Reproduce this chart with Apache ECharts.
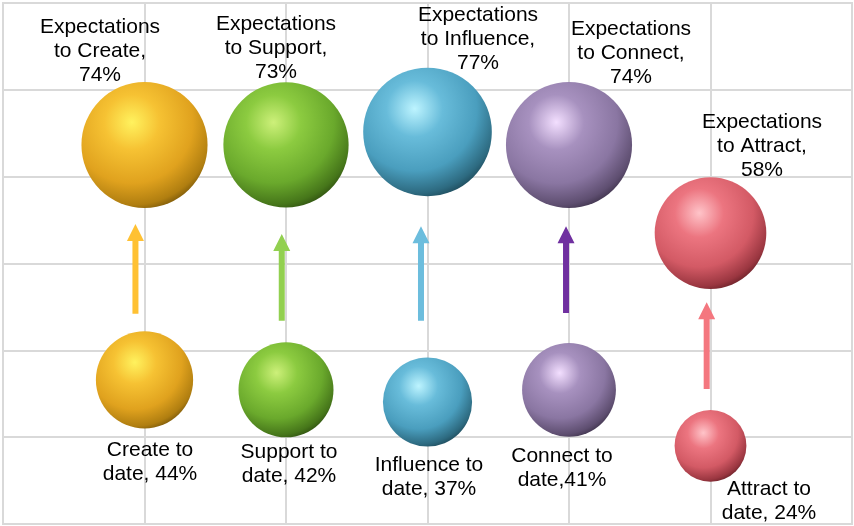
<!DOCTYPE html>
<html><head><meta charset="utf-8">
<script src="https://cdn.jsdelivr.net/npm/echarts@6/dist/echarts.min.js"></script>
<style>html,body{margin:0;padding:0;background:#fff}#c{width:854px;height:526px}</style>
</head><body><div id="c"></div>
<script>
const categories = ['Create', 'Support', 'Influence', 'Connect', 'Attract'];
const xPos = [1, 2, 3, 4, 5];
const expectValues = [74, 73, 77, 74, 58];
const toDateValues = [44, 42, 37, 41, 24];
const expectY = [87.3, 87.3, 90.3, 87.3, 67.0];
const toDateY = [33.2, 30.9, 28.1, 30.9, 18.0];
const expectLabels = ['Expectations\nto Create,\n74%', 'Expectations\nto Support,\n73%', 'Expectations\nto Influence,\n77%', 'Expectations\nto Connect,\n74%', 'Expectations\nto Attract,\n58%'];
const toDateLabels = ['Create to\ndate, 44%', 'Support to\ndate, 42%', 'Influence to\ndate, 37%', 'Connect to\ndate,41%', 'Attract to\ndate, 24%'];
const arrowX = [0.936, 1.970, 2.954, 3.979, 4.973];
const arrowFrom = [48.4, 46.8, 46.8, 48.6, 31.1];
const arrowTo = [69.1, 66.8, 68.6, 68.6, 51.1];

// styles
const spherePalette = [
  ['#FFF25E', '#F6C233', '#E0A21E', '#B07E10', '#4A3604'],
  ['#CDF07A', '#8CCB40', '#6AA92C', '#46761A', '#1C3008'],
  ['#BDF4FF', '#68BCDA', '#4A9EBE', '#2D6A80', '#112E38'],
  ['#F3DFFF', '#A791BF', '#8A76A2', '#5E4E70', '#241C2C'],
  ['#FFC4C9', '#EC7580', '#D35A65', '#9A3640', '#3E0F13']
];
const arrowColors = ['#FFC133', '#92D050', '#6CBDDD', '#7030A0', '#F4777F'];
const expectLabelOffsets = [[-44.5, -94], [-10, -97], [50.5, -93], [62, -92], [51.5, -87]];
const toDateLabelOffsets = [[5.5, 82], [3, 74], [1.5, 75], [-7, 78], [58.5, 55]];

function sphere(i) {
  const p = spherePalette[i];
  return {
    type: 'radial', x: 0.4, y: 0.32, r: 0.78,
    colorStops: [
      { offset: 0, color: p[0] },
      { offset: 0.28, color: p[1] },
      { offset: 0.62, color: p[2] },
      { offset: 0.84, color: p[3] },
      { offset: 1, color: p[4] }
    ]
  };
}

function bubbleData(values, ys, labels, offsets) {
  return values.map((v, i) => ({
    value: [xPos[i], ys[i], v],
    itemStyle: { color: sphere(i), opacity: 1 },
    label: { formatter: labels[i], offset: offsets[i] }
  }));
}

const labelStyle = {
  show: true, position: 'inside', align: 'center', verticalAlign: 'middle',
  fontFamily: 'Liberation Sans, Arial, sans-serif', fontSize: 21, lineHeight: 24, color: '#000'
};

const chart = echarts.init(document.getElementById('c'));
chart.setOption({
  animation: false,
  grid: { left: 3, right: 2, top: 3, bottom: 2, show: true, borderColor: '#D9D9D9', borderWidth: 2 },
  xAxis: {
    type: 'value', min: 0, max: 6, interval: 1,
    axisLine: { show: false }, axisTick: { show: false }, axisLabel: { show: false },
    splitLine: { show: true, lineStyle: { color: '#D9D9D9', width: 2 } }
  },
  yAxis: {
    type: 'value', min: 0, max: 120, interval: 20,
    axisLine: { show: false }, axisTick: { show: false }, axisLabel: { show: false },
    splitLine: { show: true, lineStyle: { color: '#D9D9D9', width: 2 } }
  },
  series: [
    {
      type: 'custom',
      data: arrowX.map((x, i) => [x, arrowFrom[i], arrowTo[i], i]),
      renderItem: function (params, api) {
        const p0 = api.coord([api.value(0), api.value(1)]);
        const p1 = api.coord([api.value(0), api.value(2)]);
        const x = p0[0], sw = 3, hw = 8.5, hh = 17;
        return {
          type: 'polygon',
          shape: { points: [
            [x - sw, p0[1]], [x - sw, p1[1] + hh], [x - hw, p1[1] + hh], [x, p1[1]],
            [x + hw, p1[1] + hh], [x + sw, p1[1] + hh], [x + sw, p0[1]]
          ] },
          style: { fill: arrowColors[api.value(3)] }
        };
      },
      z: 1
    },
    {
      type: 'scatter',
      symbolSize: v => Math.sqrt(v[2]) * 14.66,
      itemStyle: { opacity: 1 },
      data: bubbleData(expectValues, expectY, expectLabels, expectLabelOffsets),
      label: labelStyle,
      z: 2
    },
    {
      type: 'scatter',
      symbolSize: v => Math.sqrt(v[2]) * 14.66,
      itemStyle: { opacity: 1 },
      data: bubbleData(toDateValues, toDateY, toDateLabels, toDateLabelOffsets),
      label: labelStyle,
      z: 2
    }
  ]
});
</script></body></html>
